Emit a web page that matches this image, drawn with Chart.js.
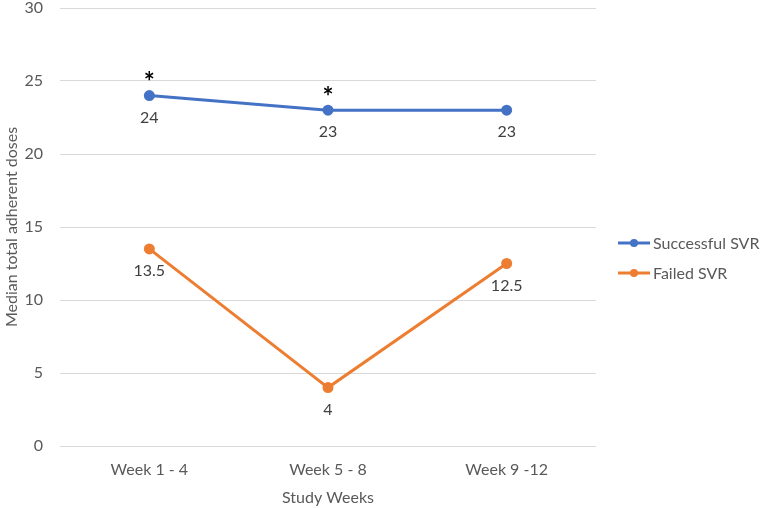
<!DOCTYPE html>
<html>
<head>
<meta charset="utf-8">
<script src="https://cdn.jsdelivr.net/npm/chart.js@4/dist/chart.umd.min.js"></script>
<style>
  html, body { margin: 0; padding: 0; background: #fff; }
  #wrap { width: 764px; height: 508px; }
</style>
</head>
<body>
<div id="wrap"><canvas id="grafico"></canvas></div>
<script>
// --- datos ---
const semanas = ['Week 1 - 4', 'Week 5 - 8', 'Week 9 -12'];
const exitoSVR = [24, 23, 23];
const falloSVR = [13.5, 4, 12.5];
const marcasSig = ['*', '*', ''];
const ticksY = [0, 5, 10, 15, 20, 25, 30];

const AZUL = '#4472C4';
const NARANJA = '#ED7D31';
const GRIS = '#595959';
const FUENTE = 'Lato, "Open Sans", sans-serif';

// etiquetas de datos (debajo) y asteriscos (arriba)
const etiquetasPlugin = {
    id: 'etiquetas',
    afterDatasetsDraw(chart) {
        const ctx = chart.ctx;
        ctx.save();
        ctx.textAlign = 'center';
        ctx.textBaseline = 'middle';
        chart.data.datasets.forEach((ds, i) => {
            const meta = chart.getDatasetMeta(i);
            meta.data.forEach((pt, j) => {
                ctx.font = '16px ' + FUENTE;
                ctx.fillStyle = '#404040';
                ctx.fillText(String(ds.data[j]), pt.x, pt.y + 22);
                if (i === 0 && marcasSig[j]) {
                    ctx.font = 'bold 26px ' + FUENTE;
                    ctx.fillStyle = '#000';
                    ctx.fillText(marcasSig[j], pt.x, pt.y - 13);
                }
            });
        });
        ctx.restore();
    }
};

// leyenda a la derecha: linea con punto + texto
const leyendaPlugin = {
    id: 'leyenda',
    afterDraw(chart) {
        const ctx = chart.ctx;
        const x0 = chart.chartArea.right + 22;
        const yc = (chart.chartArea.top + chart.chartArea.bottom) / 2 + 31;
        ctx.save();
        chart.data.datasets.forEach((ds, i) => {
            const y = yc - 15 + i * 30;
            ctx.strokeStyle = ds.borderColor;
            ctx.lineWidth = 3;
            ctx.beginPath();
            ctx.moveTo(x0, y);
            ctx.lineTo(x0 + 32, y);
            ctx.stroke();
            ctx.fillStyle = ds.borderColor;
            ctx.beginPath();
            ctx.arc(x0 + 16, y, 4, 0, Math.PI * 2);
            ctx.fill();
            ctx.font = '16px ' + FUENTE;
            ctx.fillStyle = GRIS;
            ctx.textAlign = 'left';
            ctx.textBaseline = 'middle';
            ctx.fillText(ds.label, x0 + 35, y + 1);
        });
        ctx.restore();
    }
};

new Chart(document.getElementById('grafico'), {
    type: 'line',
    data: {
        labels: semanas,
        datasets: [
            {
                label: 'Successful SVR',
                data: exitoSVR,
                borderColor: AZUL,
                backgroundColor: AZUL,
                borderWidth: 3,
                pointRadius: 4,
                tension: 0
            },
            {
                label: 'Failed SVR',
                data: falloSVR,
                borderColor: NARANJA,
                backgroundColor: NARANJA,
                borderWidth: 3,
                pointRadius: 4,
                tension: 0
            }
        ]
    },
    options: {
        responsive: true,
        maintainAspectRatio: false,
        animation: false,
        layout: { padding: { top: 8, right: 168, left: 2, bottom: 0 } },
        plugins: {
            tooltip: { enabled: false },
            legend: { display: false }
        },
        scales: {
            x: {
                offset: true,
                grid: { display: false, drawTicks: false },
                border: { display: false },
                ticks: { color: GRIS, font: { family: FUENTE, size: 16 }, padding: 14 },
                title: {
                    display: true,
                    text: 'Study Weeks',
                    color: GRIS,
                    font: { family: FUENTE, size: 16 },
                    padding: { top: 4, bottom: 1 }
                },
                afterFit(scale) { scale.height = 62; }
            },
            y: {
                min: 0,
                max: 30,
                afterBuildTicks(scale) { scale.ticks = ticksY.map(v => ({ value: v })); },
                grid: { color: '#D9D9D9', lineWidth: 1, drawTicks: false },
                border: { display: false },
                ticks: { color: GRIS, font: { family: FUENTE, size: 16 }, padding: 17 },
                title: {
                    display: true,
                    text: 'Median total adherent doses',
                    color: GRIS,
                    font: { family: FUENTE, size: 16 },
                    padding: { top: 0, bottom: 0 }
                },
                afterFit(scale) {
                    scale.width = 58;
                    scale.paddingTop = 0;
                    scale.paddingBottom = 0;
                }
            }
        }
    },
    plugins: [etiquetasPlugin, leyendaPlugin]
});
</script>
</body>
</html>
